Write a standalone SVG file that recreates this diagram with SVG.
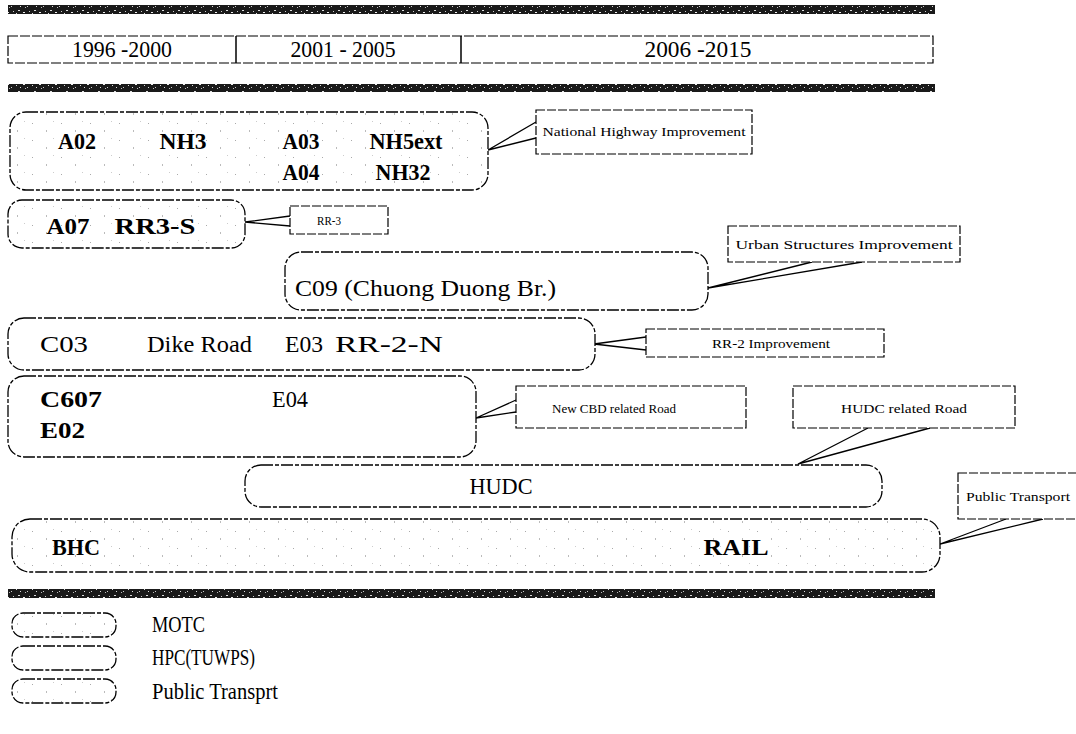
<svg xmlns="http://www.w3.org/2000/svg" width="1076" height="734" viewBox="0 0 1076 734">
<defs>
<pattern id="hatch" width="16" height="9" patternUnits="userSpaceOnUse">
<rect width="16" height="9" fill="#1a1a1a"/>
<rect x="2" y="1" width="2" height="1" fill="#ddd"/>
<rect x="7" y="3" width="2" height="1" fill="#eee"/>
<rect x="11" y="6" width="1" height="1" fill="#ccc"/>
<rect x="4" y="6" width="1" height="1" fill="#ddd"/>
<rect x="13" y="2" width="1" height="1" fill="#ccc"/>
<rect x="0" y="4" width="1" height="1" fill="#ddd"/>
<rect x="9" y="7" width="1" height="1" fill="#bbb"/>
</pattern>
<pattern id="stipple" width="29" height="17" patternUnits="userSpaceOnUse">
<rect width="29" height="17" fill="#fff"/>
<rect x="3" y="4" width="1" height="1" fill="#aaa"/>
<rect x="17" y="11" width="1" height="2" fill="#bbb"/>
<rect x="24" y="2" width="1" height="1" fill="#ccc"/>
</pattern>
</defs>
<style>
.box{fill:#fff;stroke:#000;stroke-width:1.3;stroke-dasharray:12 2 4 2}
.dot{fill:url(#stipple)}
.call{fill:#fff;stroke:#000;stroke-width:1.2;stroke-dasharray:9 2}
.ptr{stroke:#000;stroke-width:1.3;fill:none}
.t{font-family:"Liberation Serif","Times New Roman",serif;fill:#000;font-size:23px}
.b{font-weight:bold}
.s{font-size:12.5px}
.bar{fill:url(#hatch)}
</style>
<rect width="1076" height="734" fill="#fff"/>

<g id="bars">
<rect class="bar" x="8" y="5" width="927" height="9"/>
<rect class="bar" x="8" y="84" width="927" height="8"/>
<rect class="bar" x="8" y="589" width="927" height="9"/>
</g>

<g id="periods">
<rect x="8" y="36" width="925" height="27" fill="none" stroke="#000" stroke-width="1.2" stroke-dasharray="10 2"/>
<line x1="236" y1="36" x2="236" y2="63" stroke="#000" stroke-width="1.5"/>
<line x1="461" y1="36" x2="461" y2="63" stroke="#000" stroke-width="1.5"/>
<text class="t" x="122" y="57" text-anchor="middle" textLength="100" lengthAdjust="spacingAndGlyphs">1996 -2000</text>
<text class="t" x="343" y="57" text-anchor="middle" textLength="105" lengthAdjust="spacingAndGlyphs">2001 - 2005</text>
<text class="t" x="698" y="57" text-anchor="middle" textLength="107" lengthAdjust="spacingAndGlyphs">2006 -2015</text>
</g>

<g id="connectors">
<polyline class="ptr" points="536,122 488,150 536,138"/>
<polyline class="ptr" points="290,216 245,222 290,226"/>
<polyline class="ptr" points="812,262 708,288 862,262"/>
<polyline class="ptr" points="646,337 594,344 646,350"/>
<polyline class="ptr" points="516,400 476,418 516,412"/>
<polyline class="ptr" points="868,428 798,464 930,428"/>
<polyline class="ptr" points="1006,519 940,544 1043,519"/>
</g>

<g id="n-nh">
<rect class="box dot" x="10" y="112" width="478" height="78" rx="16"/>
<text class="t b" x="77" y="149" text-anchor="middle" textLength="38" lengthAdjust="spacingAndGlyphs">A02</text>
<text class="t b" x="183" y="149" text-anchor="middle" textLength="47" lengthAdjust="spacingAndGlyphs">NH3</text>
<text class="t b" x="301" y="149" text-anchor="middle" textLength="37" lengthAdjust="spacingAndGlyphs">A03</text>
<text class="t b" x="406" y="149" text-anchor="middle" textLength="73" lengthAdjust="spacingAndGlyphs">NH5ext</text>
<text class="t b" x="301" y="180" text-anchor="middle" textLength="37" lengthAdjust="spacingAndGlyphs">A04</text>
<text class="t b" x="403" y="180" text-anchor="middle" textLength="55" lengthAdjust="spacingAndGlyphs">NH32</text>
</g>

<g id="c-nh">
<rect class="call" x="536" y="110" width="216" height="44"/>
<text class="t s" x="644" y="136" text-anchor="middle" textLength="203" lengthAdjust="spacingAndGlyphs">National Highway Improvement</text>
</g>

<g id="n-rr3s">
<rect class="box dot" x="8" y="200" width="237" height="48" rx="14"/>
<text class="t b" x="68" y="234" text-anchor="middle" textLength="43" lengthAdjust="spacingAndGlyphs">A07</text>
<text class="t b" x="155" y="234" text-anchor="middle" textLength="81" lengthAdjust="spacingAndGlyphs">RR3-S</text>
</g>

<g id="c-rr3">
<rect class="call" x="290" y="206" width="98" height="28"/>
<text class="t s" x="329" y="225" text-anchor="middle" textLength="24" lengthAdjust="spacingAndGlyphs">RR-3</text>
</g>

<g id="n-c09">
<rect class="box" x="285" y="252" width="423" height="58" rx="16"/>
<text class="t" x="295" y="296" textLength="261" lengthAdjust="spacingAndGlyphs">C09 (Chuong Duong Br.)</text>
</g>

<g id="c-urban">
<rect class="call" x="728" y="226" width="232" height="36"/>
<text class="t s" x="844" y="249" text-anchor="middle" textLength="217" lengthAdjust="spacingAndGlyphs">Urban Structures Improvement</text>
</g>

<g id="n-c03">
<rect class="box" x="8" y="318" width="587" height="52" rx="16"/>
<text class="t" x="40" y="352" textLength="48" lengthAdjust="spacingAndGlyphs">C03</text>
<text class="t" x="147" y="352" textLength="105" lengthAdjust="spacingAndGlyphs">Dike Road</text>
<text class="t" x="285" y="352" textLength="38" lengthAdjust="spacingAndGlyphs">E03</text>
<text class="t" x="335" y="352" textLength="108" lengthAdjust="spacingAndGlyphs">RR-2-N</text>
</g>

<g id="c-rr2">
<rect class="call" x="646" y="329" width="238" height="28"/>
<text class="t s" x="771" y="348" text-anchor="middle" textLength="118" lengthAdjust="spacingAndGlyphs">RR-2 Improvement</text>
</g>

<g id="n-c607">
<rect class="box" x="8" y="376" width="468" height="81" rx="16"/>
<text class="t b" x="40" y="407" textLength="62" lengthAdjust="spacingAndGlyphs">C607</text>
<text class="t b" x="40" y="438" textLength="45" lengthAdjust="spacingAndGlyphs">E02</text>
<text class="t" x="272" y="407" textLength="36" lengthAdjust="spacingAndGlyphs">E04</text>
</g>

<g id="c-cbd">
<rect class="call" x="516" y="386" width="230" height="42"/>
<text class="t s" x="614" y="413" text-anchor="middle" textLength="124" lengthAdjust="spacingAndGlyphs">New CBD related Road</text>
</g>

<g id="c-hudcroad">
<rect class="call" x="793" y="386" width="222" height="42"/>
<text class="t s" x="904" y="413" text-anchor="middle" textLength="126" lengthAdjust="spacingAndGlyphs">HUDC related Road</text>
</g>

<g id="n-hudc">
<rect class="box" x="245" y="465" width="637" height="42" rx="16"/>
<text class="t" x="501" y="494" text-anchor="middle" textLength="63" lengthAdjust="spacingAndGlyphs">HUDC</text>
</g>

<g id="c-pt">
<rect class="call" x="958" y="473" width="140" height="46"/>
<text class="t s" x="966" y="501" textLength="104" lengthAdjust="spacingAndGlyphs">Public Transport</text>
</g>

<g id="n-rail">
<rect class="box dot" x="12" y="519" width="928" height="53" rx="18"/>
<text class="t b" x="52" y="555" textLength="48" lengthAdjust="spacingAndGlyphs">BHC</text>
<text class="t b" x="736" y="555" text-anchor="middle" textLength="65" lengthAdjust="spacingAndGlyphs">RAIL</text>
</g>

<g id="legend">
<rect class="box dot" x="12" y="613" width="104" height="24" rx="11"/>
<rect class="box" x="12" y="646" width="104" height="24" rx="11"/>
<rect class="box dot" x="12" y="679" width="104" height="24" rx="11"/>
<text class="t" x="152" y="632" textLength="53" lengthAdjust="spacingAndGlyphs">MOTC</text>
<text class="t" x="152" y="665" textLength="103" lengthAdjust="spacingAndGlyphs">HPC(TUWPS)</text>
<text class="t" x="152" y="699" textLength="126" lengthAdjust="spacingAndGlyphs">Public Transprt</text>
</g>
</svg>
